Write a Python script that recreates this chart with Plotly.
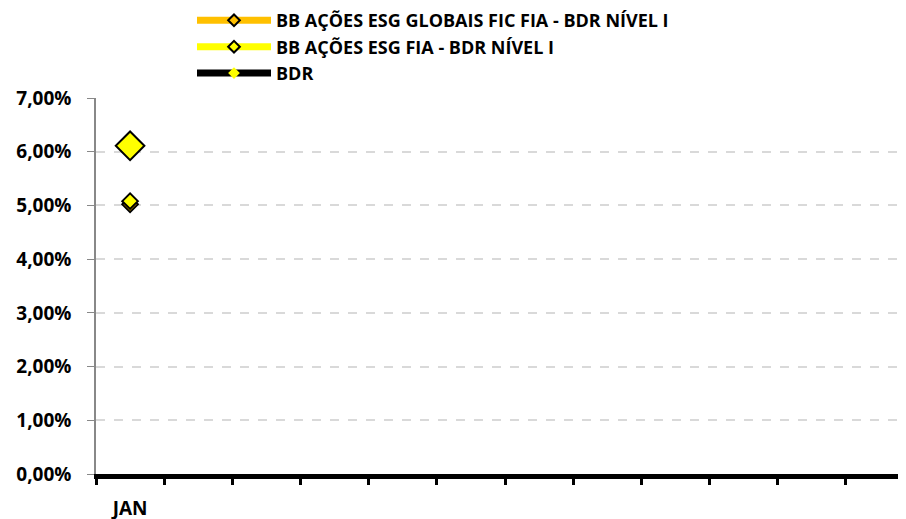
import plotly.graph_objects as go

months = ["JAN", "FEV", "MAR", "ABR", "MAI", "JUN", "JUL", "AGO", "SET", "OUT", "NOV", "DEZ"]
tick_text = ["JAN", "", "", "", "", "", "", "", "", "", "", ""]
series_names = ["BB AÇÕES ESG GLOBAIS FIC FIA - BDR NÍVEL I", "BB AÇÕES ESG FIA - BDR NÍVEL I", "BDR"]
globais_vals = [0.0502]
esg_fia_vals = [0.0508]
bdr_vals = [0.0611]
y_ticks = [0, 0.01, 0.02, 0.03, 0.04, 0.05, 0.06, 0.07]

line_colors = ["#FFC000", "#FFFF00", "#000000"]
marker_fill = ["#FFC000", "#FFFF00", "#FFFF00"]

fig = go.Figure()

# data traces
fig.add_trace(go.Scatter(x=months[:1], y=globais_vals, mode="markers", showlegend=False,
                         marker=dict(symbol="diamond", size=12, color=marker_fill[0],
                                     line=dict(color="black", width=2))))
fig.add_trace(go.Scatter(x=months[:1], y=esg_fia_vals, mode="markers", showlegend=False,
                         marker=dict(symbol="diamond", size=12, color=marker_fill[1],
                                     line=dict(color="black", width=2))))
fig.add_trace(go.Scatter(x=months[:1], y=bdr_vals, mode="markers", showlegend=False,
                         marker=dict(symbol="diamond", size=22, color=marker_fill[2],
                                     line=dict(color="black", width=2))))

# legend entries
for i, name in enumerate(series_names):
    fig.add_trace(go.Scatter(x=[None], y=[None], mode="lines+markers", name=name,
                             line=dict(color=line_colors[i], width=7),
                             marker=dict(symbol="diamond", size=9, color=marker_fill[i],
                                         line=dict(color="black", width=2 if i < 2 else 0))))

fig.update_layout(
    width=906, height=519,
    margin=dict(l=88, r=0, t=90, b=53, autoexpand=False),
    paper_bgcolor="white", plot_bgcolor="white",
    separators=",.",
    font=dict(family="Open Sans", size=13, color="black"),
    legend=dict(x=184 / 906, y=1.255, xref="container", yref="paper", xanchor="left", yanchor="top",
                orientation="v", itemwidth=74, tracegroupgap=0,
                font=dict(family="Open Sans", size=18, color="black", weight="bold")),
    xaxis=dict(type="category", categoryorder="array", categoryarray=months,
               tickvals=months, ticktext=tick_text, range=[-0.5, 11.5],
               tickson="boundaries", ticks="outside", ticklen=6, tickwidth=3, tickcolor="black",
               showline=True, linecolor="black", linewidth=5, showgrid=False,
               ticklabelstandoff=13, automargin=False,
               tickfont=dict(family="Open Sans", size=19, color="black", weight="bold")),
    yaxis=dict(range=[0, 0.07], tickvals=y_ticks, tickformat=".2%",
               showgrid=True, gridcolor="#D9D9D9", griddash="dash", gridwidth=1.5,
               showline=True, linecolor="#888888", linewidth=1.5,
               ticks="outside", ticklen=7, tickcolor="#888888", zeroline=False,
               ticklabelstandoff=12, automargin=False,
               tickfont=dict(family="Open Sans", size=19, color="black", weight="bold")),
)

fig.write_html("out.html")
